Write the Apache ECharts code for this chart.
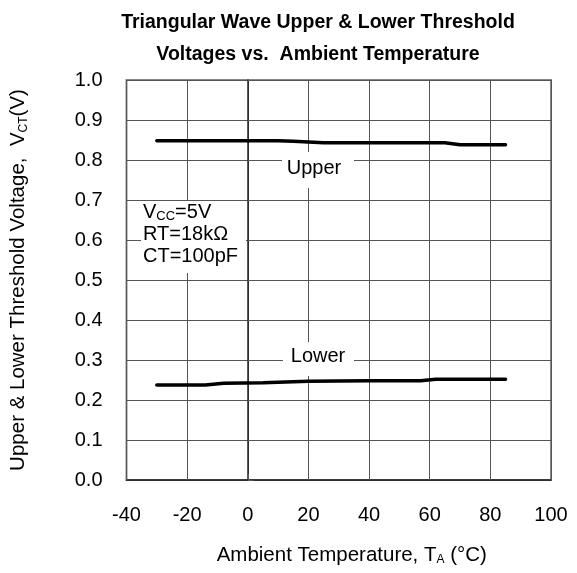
<!DOCTYPE html>
<html>
<head>
<meta charset="utf-8">
<script src="https://cdn.jsdelivr.net/npm/echarts@6/dist/echarts.min.js"></script>
<style>
html,body{margin:0;padding:0;background:#fff;}
#c{width:577px;height:573px;}
</style>
</head>
<body>
<div id="c"></div>
<script>
// Data
const upperTemps = [-30, 10, 15, 25, 40, 65, 70, 85];
const upperVolts = [0.848, 0.848, 0.847, 0.843, 0.843, 0.843, 0.838, 0.838];
const lowerTemps = [-30, -14, -8, 5, 20, 40, 57, 62, 85];
const lowerVolts = [0.2375, 0.2375, 0.242, 0.243, 0.247, 0.248, 0.248, 0.252, 0.252];
const xTicks = [-40, -20, 0, 20, 40, 60, 80, 100];
const yTicks = [0.0, 0.1, 0.2, 0.3, 0.4, 0.5, 0.6, 0.7, 0.8, 0.9, 1.0];

const FONT = '"Liberation Sans", Arial, sans-serif';

const chart = echarts.init(document.getElementById('c'), null, {renderer: 'canvas'});

function pairs(xs, ys) { return xs.map((x, i) => [x, ys[i]]); }

chart.setOption({
  animation: false,
  backgroundColor: '#fff',
  title: {
    text: 'Triangular Wave Upper & Lower Threshold\nVoltages vs.  Ambient Temperature',
    left: 313, top: 2, textAlign: 'center',
    textStyle: {fontFamily: FONT, fontWeight: 'bold', fontSize: 19.5, color: '#000', lineHeight: 32}
  },
  grid: {left: 123, right: 26, top: 80, bottom: 93, show: true, borderColor: '#888', borderWidth: 2},
  xAxis: {
    type: 'value', min: xTicks[0], max: xTicks[xTicks.length - 1], interval: 20,
    name: 'Ambient Temperature, T{s|A} (°C)', nameLocation: 'middle', nameGap: 64,
    nameTextStyle: {fontFamily: FONT, fontSize: 20.5, color: '#000', padding: [0, 0, 0, 26],
      rich: {s: {fontFamily: FONT, fontSize: 12, color: '#000', verticalAlign: 'bottom', padding: [10, 0, 0, 0]}}},
    axisLine: {lineStyle: {color: '#222', width: 1.5}},
    axisTick: {inside: true, length: 6, lineStyle: {color: '#555'}},
    axisLabel: {fontFamily: FONT, fontSize: 20, color: '#000', margin: 25},
    splitLine: {show: true, lineStyle: {color: '#555', width: 1}}
  },
  yAxis: {
    type: 'value', min: yTicks[0], max: yTicks[yTicks.length - 1], interval: 0.1,
    name: 'Upper & Lower Threshold Voltage,  V{s|CT}(V)', nameLocation: 'middle', nameGap: 97, nameRotate: 90,
    nameTextStyle: {fontFamily: FONT, fontSize: 20.5, color: '#000',
      rich: {s: {fontFamily: FONT, fontSize: 12, color: '#000', verticalAlign: 'bottom', padding: [10, 0, 0, 0]}}},
    axisLine: {lineStyle: {color: '#222', width: 1.5}},
    axisTick: {inside: true, length: 6, lineStyle: {color: '#555'}},
    axisLabel: {fontFamily: FONT, fontSize: 20, color: '#000', margin: 24, formatter: v => v.toFixed(1)},
    splitLine: {show: true, lineStyle: {color: '#555', width: 1}}
  },
  series: [
    {name: 'Upper', type: 'line', data: pairs(upperTemps, upperVolts), showSymbol: false, symbol: 'none',
      lineStyle: {color: '#000', width: 3.5, cap: 'round'}, z: 5},
    {name: 'Lower', type: 'line', data: pairs(lowerTemps, lowerVolts), showSymbol: false, symbol: 'none',
      lineStyle: {color: '#000', width: 3.5, cap: 'round'}, z: 5}
  ],
  graphic: [
    {type: 'rect', z: 100, shape: {x: 282, y: 152, width: 72, height: 36}, style: {fill: '#fff'}},
    {type: 'text', z: 101, x: 314, y: 168, style: {text: 'Upper', font: '20px ' + FONT, fill: '#000', textAlign: 'center', textVerticalAlign: 'middle'}},
    {type: 'rect', z: 100, shape: {x: 283, y: 342, width: 71, height: 34}, style: {fill: '#fff'}},
    {type: 'text', z: 101, x: 318, y: 356, style: {text: 'Lower', font: '20px ' + FONT, fill: '#000', textAlign: 'center', textVerticalAlign: 'middle'}},
    {type: 'rect', z: 100, shape: {x: 141, y: 201, width: 105, height: 72}, style: {fill: '#fff'}},
    {type: 'text', z: 101, x: 143, y: 201, style: {
      text: 'V{s|CC}=5V\nRT=18kΩ\nCT=100pF',
      font: '20px ' + FONT, fill: '#000', lineHeight: 22,
      rich: {s: {fontSize: 13, fontFamily: FONT, fill: '#000', verticalAlign: 'bottom', padding: [10, 0, 0, 0], lineHeight: 22}}
    }}
  ]
});
</script>
</body>
</html>
